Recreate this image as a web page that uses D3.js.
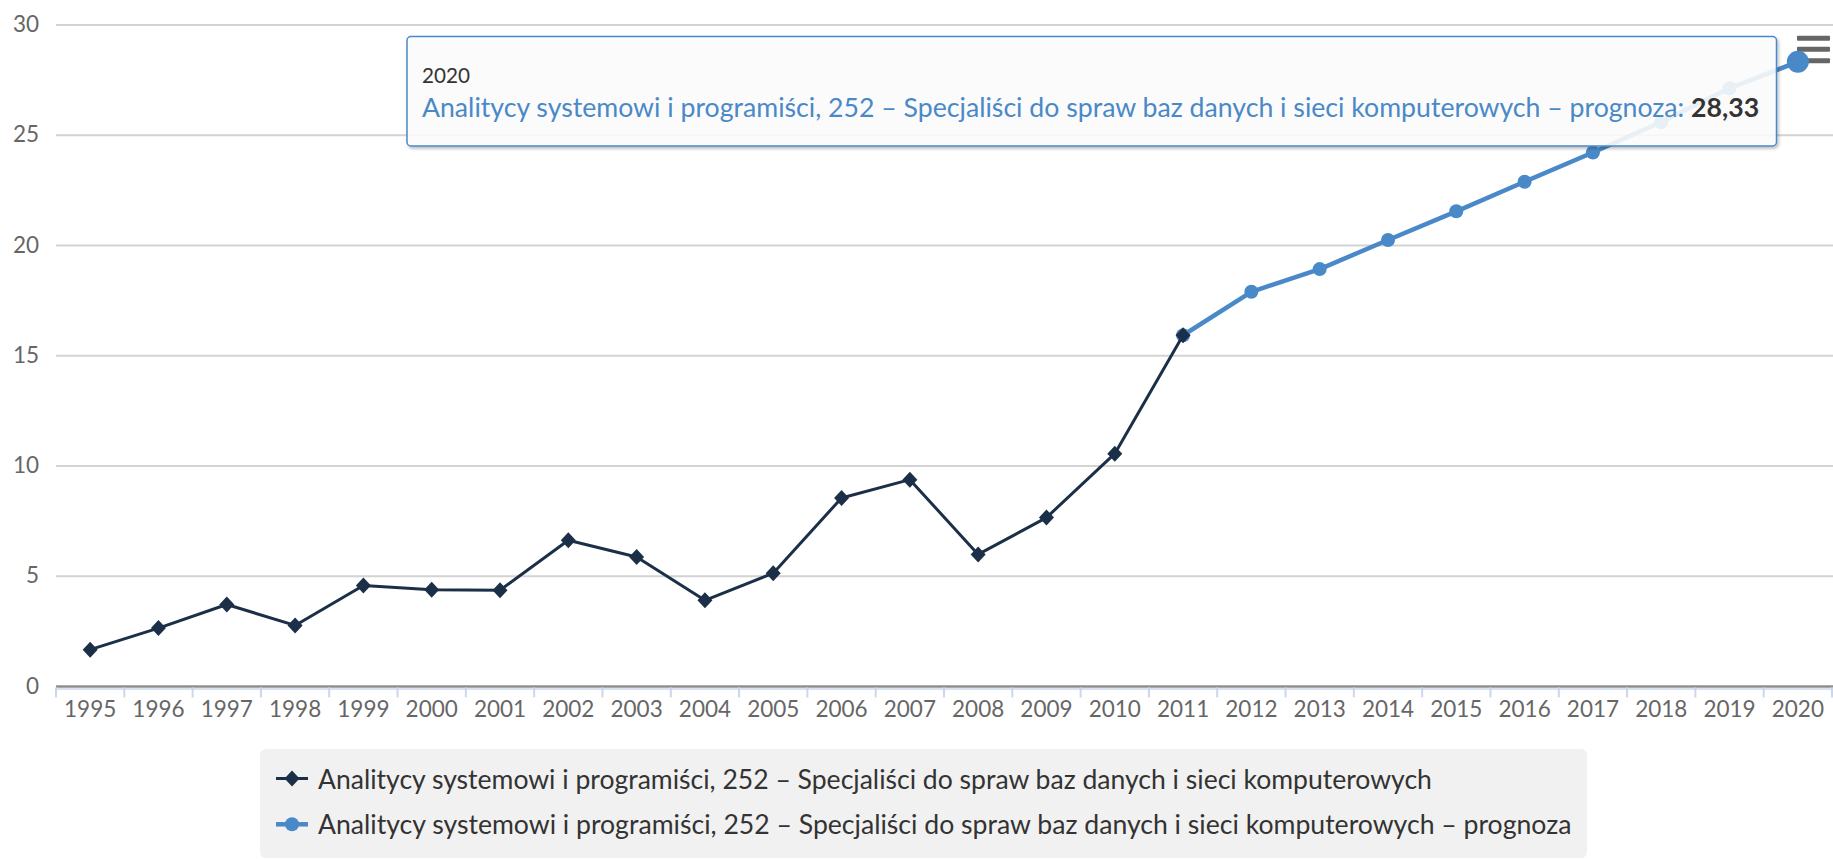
<!DOCTYPE html>
<html>
<head>
<meta charset="utf-8">
<script src="https://cdn.jsdelivr.net/npm/d3@7"></script>
<style>
  html, body { margin: 0; padding: 0; background: #fff; }
  svg { display: block; font-family: Lato, "Noto Sans", sans-serif; }
</style>
</head>
<body>
<svg id="chart" width="1833" height="859"></svg>
<script>
// Categories (years) and the two series: observed values and the forecast
const years = ["1995","1996","1997","1998","1999","2000","2001","2002","2003","2004",
               "2005","2006","2007","2008","2009","2010","2011","2012","2013","2014",
               "2015","2016","2017","2018","2019","2020"];
const actual = [1.67, 2.65, 3.72, 2.77, 4.58, 4.39, 4.37, 6.63, 5.87, 3.91,
                5.14, 8.55, 9.38, 5.99, 7.66, 10.56, 15.93,
                null, null, null, null, null, null, null, null, null];
const forecast = [null, null, null, null, null, null, null, null, null, null,
                  null, null, null, null, null, null, 15.93,
                  17.90, 18.93, 20.25, 21.55, 22.89, 24.22, 25.60, 27.13, 28.33];
const yTicks = [0, 5, 10, 15, 20, 25, 30];

const seriesName = "Analitycy systemowi i programiści, 252 – Specjaliści do spraw baz danych i sieci komputerowych";
const forecastName = seriesName + " – prognoza";
const hoverIndex = 25;

const W = 1833, H = 859;
const plot = { left: 56, right: 1832, top: 25, bottom: 686.5 };
const navy = "#1b3048", blue = "#4a89c8";

const svg = d3.select("#chart");

const x = d3.scaleBand().domain(years).range([plot.left, plot.right]);
const y = d3.scaleLinear().domain([0, 30]).range([plot.bottom, plot.top]);
const cx = d => x(d) + x.bandwidth() / 2;

// Horizontal grid lines
svg.append("g").selectAll("line").data(yTicks).join("line")
  .attr("x1", plot.left).attr("x2", W)
  .attr("y1", d => y(d)).attr("y2", d => y(d))
  .attr("stroke", d => d === 0 ? "#8f8f8f" : "#d3d3d3")
  .attr("stroke-width", d => d === 0 ? 2.5 : 2);

// Y axis labels
const yAxis = d3.axisLeft(y).tickValues(yTicks).tickSize(0).tickPadding(0)
  .tickFormat(d3.format("d"));
const gy = svg.append("g").attr("transform", "translate(39,0)").call(yAxis);
gy.select(".domain").remove();
gy.selectAll("text").attr("font-family", "Lato").attr("font-size", 22.5)
  .attr("fill", "#666").attr("dy", "0.29em");

// X axis: line, ticks between categories, labels centered
svg.append("line").attr("x1", plot.left).attr("x2", W)
  .attr("y1", plot.bottom + 2.5).attr("y2", plot.bottom + 2.5)
  .attr("stroke", "#ccd6eb").attr("stroke-width", 1.5);
const boundaries = years.map(d => x(d)).concat([plot.right]);
svg.append("g").selectAll("line").data(boundaries).join("line")
  .attr("x1", d => d).attr("x2", d => d)
  .attr("y1", plot.bottom + 1).attr("y2", plot.bottom + 11)
  .attr("stroke", "#ccd6eb").attr("stroke-width", 2);
const xAxis = d3.axisBottom(x).tickSize(0).tickPadding(0);
const gx = svg.append("g").attr("transform", `translate(0,${plot.bottom})`).call(xAxis);
gx.select(".domain").remove();
gx.selectAll("text").attr("font-family", "Lato").attr("font-size", 22.5)
  .attr("fill", "#666").attr("dy", null).attr("y", 30.5);

// Context menu icon
const menu = svg.append("g");
[38.3, 49.3, 60.7].forEach(v => {
  menu.append("rect").attr("x", 1797).attr("y", v - 2.5).attr("width", 33).attr("height", 5)
    .attr("rx", 1).attr("fill", "#666");
});

// Lines
const line = d3.line().defined(d => d.v != null).x(d => cx(d.k)).y(d => y(d.v));
const actualPts = years.map((k, i) => ({ k, v: actual[i] }));
const forecastPts = years.map((k, i) => ({ k, v: forecast[i] }));

svg.append("path").datum(forecastPts).attr("d", line)
  .attr("fill", "none").attr("stroke", blue).attr("stroke-width", 4.5)
  .attr("stroke-linejoin", "round").attr("stroke-linecap", "round");
svg.append("g").selectAll("circle").data(forecastPts.filter(d => d.v != null)).join("circle")
  .attr("cx", d => cx(d.k)).attr("cy", d => y(d.v))
  .attr("r", d => years.indexOf(d.k) === hoverIndex ? 11 : 7)
  .attr("fill", blue);

svg.append("path").datum(actualPts).attr("d", line)
  .attr("fill", "none").attr("stroke", navy).attr("stroke-width", 3)
  .attr("stroke-linejoin", "round");
const diamond = (px, py, w, h) => `M${px},${py - h}L${px + w},${py}L${px},${py + h}L${px - w},${py}Z`;
svg.append("g").selectAll("path").data(actualPts.filter(d => d.v != null)).join("path")
  .attr("d", d => diamond(cx(d.k), y(d.v), 7.5, 8))
  .attr("fill", navy);

// Fit a text element to a target width by adjusting its font size
function fitWidth(sel, target) {
  const base = 20;
  sel.attr("font-size", base);
  const w = sel.node().getComputedTextLength();
  sel.attr("font-size", base * target / w);
}

// Legend
const legend = svg.append("g");
legend.append("rect").attr("x", 260).attr("y", 749).attr("width", 1327).attr("height", 109)
  .attr("rx", 6).attr("fill", "#f1f1f1");
const legendItems = [
  { name: seriesName, color: navy, sym: "diamond", y: 778.5, w: 1114.6 },
  { name: forecastName, color: blue, sym: "circle", y: 824.3, w: 1254 }
];
legendItems.forEach(it => {
  legend.append("line").attr("x1", 276).attr("x2", 308).attr("y1", it.y).attr("y2", it.y)
    .attr("stroke", it.color).attr("stroke-width", it.sym === "circle" ? 4.5 : 3);
  if (it.sym === "circle") {
    legend.append("circle").attr("cx", 292).attr("cy", it.y).attr("r", 7).attr("fill", it.color);
  } else {
    legend.append("path").attr("d", diamond(292, it.y, 7.5, 8)).attr("fill", it.color);
  }
  const t = legend.append("text").attr("x", 318).attr("y", it.y + 10)
    .attr("font-family", "Lato").attr("fill", "#333").text(it.name);
  fitWidth(t, it.w);
});

// Tooltip for the hovered point
const defs = svg.append("defs");
const f = defs.append("filter").attr("id", "tipShadow")
  .attr("x", "-5%").attr("y", "-20%").attr("width", "110%").attr("height", "150%");
f.append("feDropShadow").attr("dx", 1.5).attr("dy", 2).attr("stdDeviation", 1.6)
  .attr("flood-color", "#000").attr("flood-opacity", 0.28);

const tip = svg.append("g");
tip.append("rect").attr("x", 407).attr("y", 36.5).attr("width", 1369.5).attr("height", 109.5)
  .attr("rx", 4).attr("fill", "rgba(255,255,255,0.86)")
  .attr("stroke", blue).attr("stroke-width", 1.5).attr("filter", "url(#tipShadow)");
const head = tip.append("text").attr("x", 422).attr("y", 82.5)
  .attr("font-family", "Lato").attr("fill", "#333").text(years[hoverIndex]);
fitWidth(head, 48);
const body = tip.append("text").attr("x", 422).attr("y", 117)
  .attr("font-family", "Lato").attr("fill", blue);
body.append("tspan").text(forecastName + ": ");
body.append("tspan").attr("font-weight", "bold").attr("fill", "#333")
  .text(d3.format(".2f")(forecast[hoverIndex]).replace(".", ","));
fitWidth(body, 1338);
</script>
</body>
</html>
